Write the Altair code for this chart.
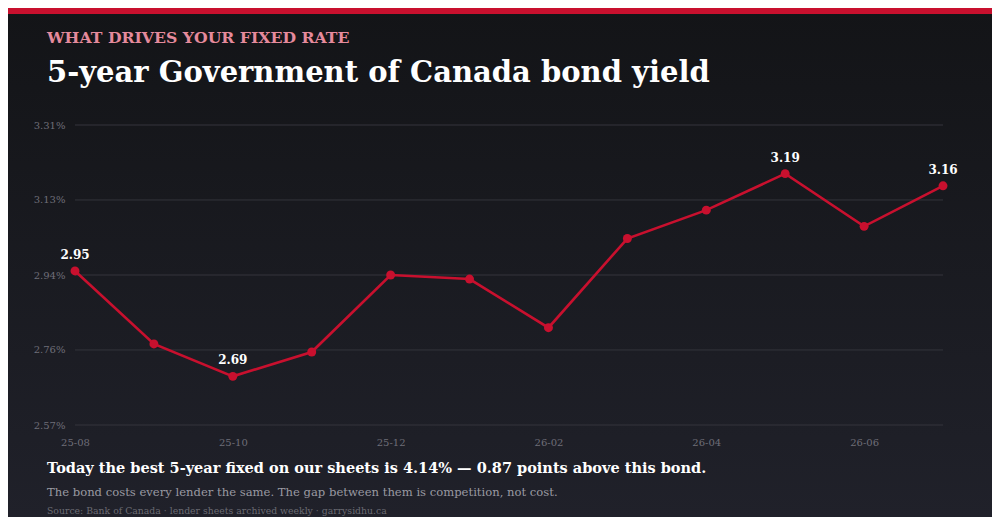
import altair as alt
import pandas as pd

months = ["25-08", "25-09", "25-10", "25-11", "25-12", "26-01",
          "26-02", "26-03", "26-04", "26-05", "26-06", "26-07"]
yields = [2.95, 2.77, 2.69, 2.75, 2.94, 2.93, 2.81, 3.03, 3.10, 3.19, 3.06, 3.16]
month_ticks = ["25-08", "25-10", "25-12", "26-02", "26-04", "26-06"]
yield_ticks = [2.57, 2.7551, 2.94, 3.1251, 3.31]

kicker = "WHAT DRIVES YOUR FIXED RATE"
headline = "5-year Government of Canada bond yield"
takeaway = "Today the best 5-year fixed on our sheets is 4.14% \u2014 0.87 points above this bond."
note = "The bond costs every lender the same. The gap between them is competition, not cost."
source = "Source: Bank of Canada \u00b7 lender sheets archived weekly \u00b7 garrysidhu.ca"

SERIF = "DejaVu Serif"
RED = "#c8102e"

df = pd.DataFrame({"month": months, "yield": yields})
# label first, last, lowest and highest points
lab_idx = {0, len(yields) - 1, yields.index(min(yields)), yields.index(max(yields))}
df["show"] = [i in lab_idx for i in range(len(yields))]

W, H = 868, 300
PAD_L, PAD_T = 67, 117
TOTAL_W, TOTAL_H = 984, 509

one = pd.DataFrame({"k": [0]})

bg = alt.Chart(one).mark_rect(
    fill=alt.LinearGradient(
        gradient="linear", x1=0, y1=0, x2=0, y2=1,
        stops=[alt.GradientStop(color="#131417", offset=0),
               alt.GradientStop(color="#20212a", offset=1)])
).encode(
    x=alt.value(-PAD_L), x2=alt.value(TOTAL_W - PAD_L),
    y=alt.value(-PAD_T), y2=alt.value(TOTAL_H - PAD_T)
)

bar = alt.Chart(one).mark_rect(fill=RED).encode(
    x=alt.value(-PAD_L), x2=alt.value(TOTAL_W - PAD_L),
    y=alt.value(-PAD_T), y2=alt.value(-PAD_T + 6)
)

y_scale = alt.Scale(domain=[2.57, 3.31], nice=False, zero=False)
y_axis = alt.Axis(values=yield_ticks, labelExpr="format(datum.value, '.2f') + '%'",
                  domain=False, ticks=False, labelColor="#6e6e78", labelFont=SERIF,
                  labelFontSize=10, labelPadding=10, grid=False, zindex=1)

x_enc = alt.X("month:N", sort=months, title=None,
              scale=alt.Scale(type="point", padding=0),
              axis=alt.Axis(values=month_ticks, labelAngle=0, domain=False, ticks=False,
                            labelColor="#6e6e78", labelFont=SERIF, labelFontSize=10,
                            labelPadding=12, grid=False, zindex=1))
y_enc = alt.Y("yield:Q", title=None, scale=y_scale, axis=y_axis)

# gridlines drawn as rules so they sit under the line
grid = alt.Chart(pd.DataFrame({"g": yield_ticks})).mark_rule(
    color="#34353c", strokeWidth=1
).encode(y=alt.Y("g:Q", title=None, scale=y_scale, axis=y_axis))

base = alt.Chart(df).encode(x=x_enc, y=y_enc)
line = base.mark_line(color=RED, strokeWidth=2.6)
pts = base.mark_circle(color=RED, size=80, opacity=1)
labels = base.transform_filter(alt.datum.show).mark_text(
    dy=-16, font=SERIF, fontSize=12, fontWeight="bold", color="white"
).encode(text=alt.Text("yield:Q", format=".2f"))


def txt(s, y, size, color, weight="normal"):
    return alt.Chart(pd.DataFrame({"t": [s]})).mark_text(
        align="left", baseline="middle", font=SERIF, fontSize=size,
        fontWeight=weight, color=color
    ).encode(x=alt.value(-28), y=alt.value(y), text="t:N")


chart = alt.layer(
    bg, bar, grid, line, pts, labels,
    txt(kicker, -87, 15.7, "#e58a9c", "bold"),
    txt(headline, -52, 29, "white", "bold"),
    txt(takeaway, 344, 14.5, "white", "bold"),
    txt(note, 368, 11.6, "#9a9aa2"),
    txt(source, 386, 9.3, "#6b6b73"),
).properties(
    width=W, height=H,
    autosize=alt.AutoSizeParams(type="none"),
    padding={"left": PAD_L, "top": PAD_T, "right": TOTAL_W - PAD_L - W,
             "bottom": TOTAL_H - PAD_T - H},
    background="#131417",
).configure_view(strokeWidth=0)

chart.save("out.html", embed_options={"renderer": "svg", "actions": False})
